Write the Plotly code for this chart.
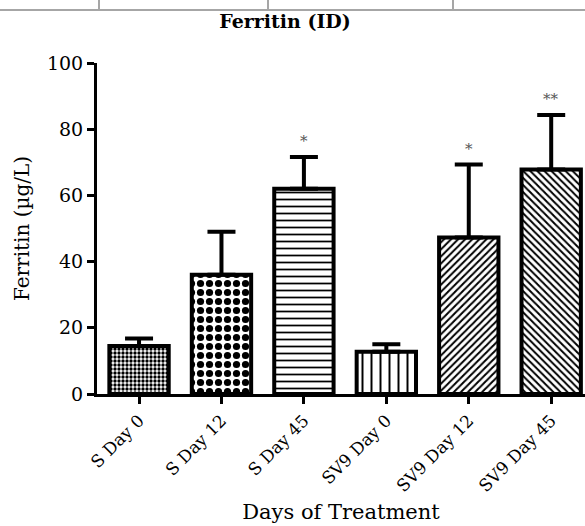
import plotly.graph_objects as go

# Ferritin levels by treatment group
categories = ["S Day 0", "S Day 12", "S Day 45", "SV9 Day 0", "SV9 Day 12", "SV9 Day 45"]
means = [14.5, 36.0, 62.0, 12.8, 47.3, 67.8]
sem = [2.3, 13.0, 9.6, 2.2, 22.0, 16.5]
significance = ["", "", "*", "", "*", "**"]
patterns = [".", ".", "-", "|", "/", "\\"]
pattern_sizes = [4, 9, 7, 9, 5, 5]
pattern_solidity = [0.55, 0.5, 0.25, 0.22, 0.4, 0.4]

SERIF = "DejaVu Serif"

fig = go.Figure()
fig.add_trace(go.Bar(
    x=categories,
    y=means,
    width=0.72,
    marker=dict(
        color="white",
        line=dict(color="black", width=4),
        pattern=dict(shape=patterns, size=pattern_sizes, solidity=pattern_solidity,
                     fgcolor="black", fgopacity=1, bgcolor="white", fillmode="overlay"),
    ),
    error_y=dict(type="data", symmetric=False, array=sem,
                 arrayminus=[0] * len(sem), color="black", thickness=4, width=14),
    showlegend=False,
))

# significance markers above the error bars
for cat, m, e, s in zip(categories, means, sem, significance):
    if s:
        fig.add_annotation(x=cat, y=m + e, text=s, showarrow=False,
                           yanchor="bottom", yshift=5,
                           font=dict(family=SERIF, size=15, color="#555555"))

# page table rule along the top
shapes = [dict(type="line", xref="paper", yref="paper", x0=-0.25, x1=1.0,
               y0=1 + 53 / 331, y1=1 + 53 / 331, line=dict(color="#a6a6a6", width=2))]
for px in [99, 268, 453]:
    xp = (px - 97) / 488
    shapes.append(dict(type="line", xref="paper", yref="paper", x0=xp, x1=xp,
                       y0=1 + 53 / 331, y1=1 + 63 / 331,
                       line=dict(color="#a6a6a6", width=2)))

fig.update_layout(
    width=585, height=526,
    margin=dict(l=97, r=0, t=63, b=132),
    paper_bgcolor="white", plot_bgcolor="white",
    shapes=shapes,
    title=dict(text="<b>Ferritin (ID)</b>", x=285 / 585, xanchor="center",
               y=1 - 21 / 526, yanchor="middle", yref="container",
               font=dict(family=SERIF, size=19, color="black")),
    font=dict(family=SERIF, color="black"),
)
fig.update_yaxes(
    range=[0, 100], tickvals=[0, 20, 40, 60, 80, 100],
    showline=True, linecolor="black", linewidth=3,
    ticks="outside", ticklen=7, tickwidth=3, tickcolor="black",
    showgrid=False, zeroline=False,
    tickfont=dict(family=SERIF, size=19, color="black"),
    title=dict(text="Ferritin (µg/L)", font=dict(family=SERIF, size=20, color="black"),
               standoff=12),
)
fig.update_xaxes(
    range=[-0.51, 5.41],
    showline=True, linecolor="black", linewidth=3,
    ticks="outside", ticklen=7, tickwidth=3, tickcolor="black",
    showgrid=False, tickangle=-45,
    tickfont=dict(family=SERIF, size=17, color="black"),
    title=dict(text="Days of Treatment", font=dict(family=SERIF, size=21, color="black"),
               standoff=10),
)

fig.write_html("out.html")
